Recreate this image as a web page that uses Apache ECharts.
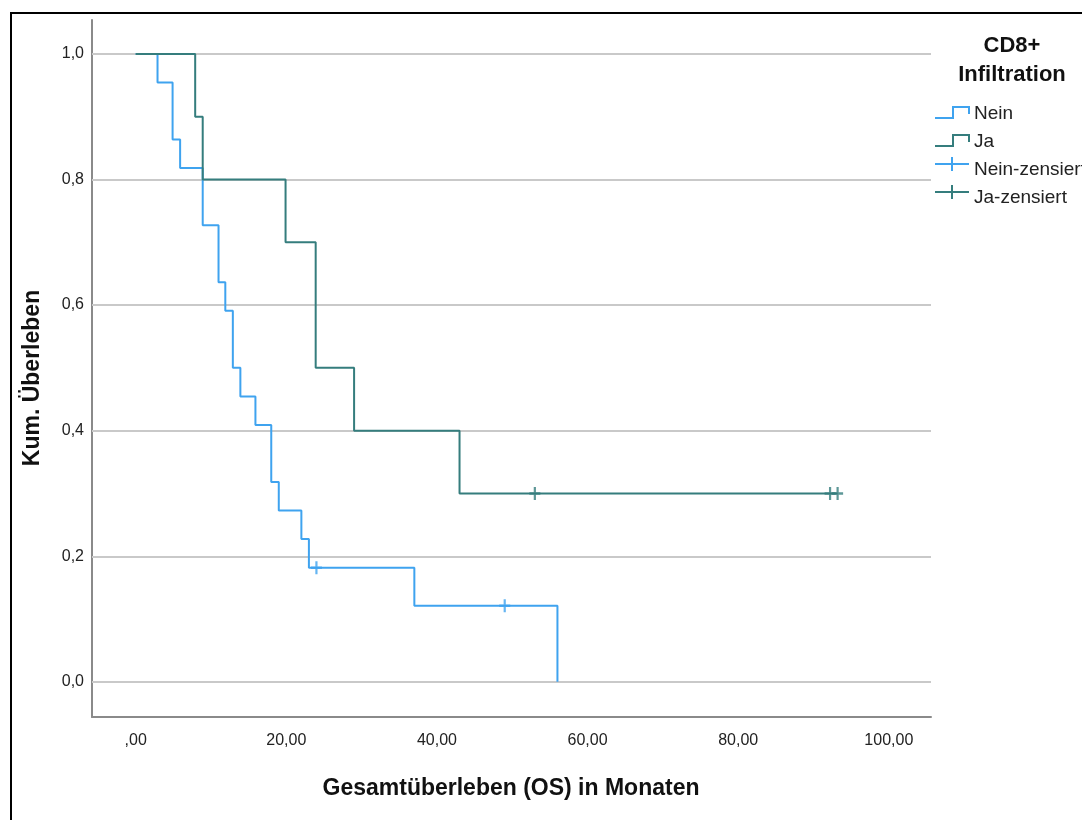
<!DOCTYPE html>
<html>
<head>
<meta charset="utf-8">
<script src="https://cdn.jsdelivr.net/npm/echarts@6/dist/echarts.min.js"></script>
<style>
  html, body { margin: 0; padding: 0; background: #fff; }
  #chart { width: 1082px; height: 820px; }
</style>
</head>
<body>
<div id="chart"></div>
<script>
// Kaplan-Meier: Gesamtüberleben nach CD8+ Infiltration
const neinTimes = [0, 2.9, 4.9, 5.9, 8.9, 11, 11.9, 12.9, 13.9, 15.9, 18, 19, 22, 23, 37, 56];
const neinSurv  = [1, 0.9545, 0.8636, 0.8182, 0.7273, 0.6364, 0.5909, 0.5, 0.4545, 0.4091, 0.3182, 0.2727, 0.2273, 0.1818, 0.1212, 0];
const jaTimes   = [0, 7.9, 8.9, 19.9, 23.9, 29, 43, 93.2];
const jaSurv    = [1, 0.9, 0.8, 0.7, 0.5, 0.4, 0.3, 0.3];

const neinCensorTimes = [24, 49];
const neinCensorSurv  = [0.1818, 0.1212];
const jaCensorTimes   = [53, 92.2, 93.2];
const jaCensorSurv    = [0.3, 0.3, 0.3];

const xTicks = [0, 20, 40, 60, 80, 100];
const yTicks = [0, 0.2, 0.4, 0.6, 0.8, 1.0];

const seriesNames = ['Nein', 'Ja', 'Nein-zensiert', 'Ja-zensiert'];
const legendTitle = 'CD8+\nInfiltration';
const xTitle = 'Gesamtüberleben (OS) in Monaten';
const yTitle = 'Kum. Überleben';

const BLUE = '#3fa3ef';
const TEAL = '#357d7d';
const FONT = '"Liberation Sans", Arial, sans-serif';
const PLUS = 'path://M4,0H6V10H4Z M0,4H10V6H0Z';

const zip = (a, b) => a.map((v, i) => [v, b[i]]);

const chart = echarts.init(document.getElementById('chart'), null, { renderer: 'canvas' });

// Legend drawn as graphic items: step icons for curves, plus icons for censored marks
const lx = 935, tx = 974;
const legendRows = [116, 144, 172, 200];
const stepIcon = (row, color) => ({
  type: 'polyline',
  shape: { points: [[lx, row + 2], [lx + 18, row + 2], [lx + 18, row - 9], [lx + 34, row - 9], [lx + 34, row - 2]] },
  style: { stroke: color, lineWidth: 2, fill: null }
});
const plusIcon = (row, color) => ([
  { type: 'polyline', shape: { points: [[lx, row - 8], [lx + 34, row - 8]] }, style: { stroke: color, lineWidth: 2 } },
  { type: 'polyline', shape: { points: [[lx + 17, row - 15], [lx + 17, row - 1]] }, style: { stroke: color, lineWidth: 2 } }
]);
const legendGraphics = [
  { type: 'text', x: 1012, y: 60, style: { text: legendTitle, font: 'bold 22px ' + FONT, fill: '#111', align: 'center', verticalAlign: 'middle', lineHeight: 29 } },
  stepIcon(legendRows[0], BLUE),
  stepIcon(legendRows[1], TEAL)
].concat(plusIcon(legendRows[2], BLUE), plusIcon(legendRows[3], TEAL));
seriesNames.forEach((name, i) => {
  legendGraphics.push({ type: 'text', x: tx, y: legendRows[i] - 2, style: { text: name, font: '19px ' + FONT, fill: '#222', align: 'left', verticalAlign: 'middle' } });
});

const option = {
  animation: false,
  backgroundColor: '#fff',
  grid: { left: 92, top: 20, right: 151, bottom: 103, containLabel: false },
  xAxis: {
    type: 'value', min: -5.8, max: 105.6,
    axisLine: { show: true, onZero: false, lineStyle: { color: '#8a8a8a', width: 2 } },
    axisTick: { show: false },
    splitLine: { show: false },
    axisLabel: {
      customValues: xTicks, margin: 16, color: '#222', fontSize: 16, fontFamily: FONT,
      formatter: v => v === 0 ? ',00' : v.toFixed(2).replace('.', ',')
    }
  },
  yAxis: {
    type: 'value', min: -0.056, max: 1.054,
    axisLine: { show: true, onZero: false, lineStyle: { color: '#8a8a8a', width: 2 } },
    axisTick: { show: false },
    splitLine: { show: false },
    axisLabel: {
      customValues: yTicks, margin: 8, color: '#222', fontSize: 16, fontFamily: FONT,
      formatter: v => v.toFixed(1).replace('.', ',')
    }
  },
  series: [
    {
      name: 'grid', type: 'line', data: [], z: 1, silent: true,
      markLine: {
        silent: true, symbol: 'none', label: { show: false }, animation: false, z: 1,
        lineStyle: { color: '#c9c9c9', width: 2, type: 'solid' },
        data: yTicks.map(v => ({ yAxis: v }))
      }
    },
    {
      name: seriesNames[0], type: 'line', step: 'end', data: zip(neinTimes, neinSurv), z: 3,
      showSymbol: false, lineStyle: { color: BLUE, width: 2 }, itemStyle: { color: BLUE }
    },
    {
      name: seriesNames[1], type: 'line', step: 'end', data: zip(jaTimes, jaSurv), z: 4,
      showSymbol: false, lineStyle: { color: TEAL, width: 2 }, itemStyle: { color: TEAL }
    },
    {
      name: seriesNames[2], type: 'scatter', data: zip(neinCensorTimes, neinCensorSurv), z: 5,
      symbol: PLUS, symbolSize: [11, 13], itemStyle: { color: BLUE }
    },
    {
      name: seriesNames[3], type: 'scatter', data: zip(jaCensorTimes, jaCensorSurv), z: 5,
      symbol: PLUS, symbolSize: [11, 13], itemStyle: { color: TEAL }
    }
  ],
  graphic: [
    { type: 'rect', shape: { x: 11, y: 13, width: 1200, height: 900 }, style: { fill: null, stroke: '#000', lineWidth: 2 }, silent: true },
    { type: 'text', x: 511, y: 789, style: { text: xTitle, font: 'bold 23px ' + FONT, fill: '#111', align: 'center', verticalAlign: 'middle' } },
    { type: 'text', x: 33, y: 378, rotation: Math.PI / 2, style: { text: yTitle, font: 'bold 23px ' + FONT, fill: '#111', align: 'center', verticalAlign: 'middle' } }
  ].concat(legendGraphics)
};

chart.setOption(option);
</script>
</body>
</html>
